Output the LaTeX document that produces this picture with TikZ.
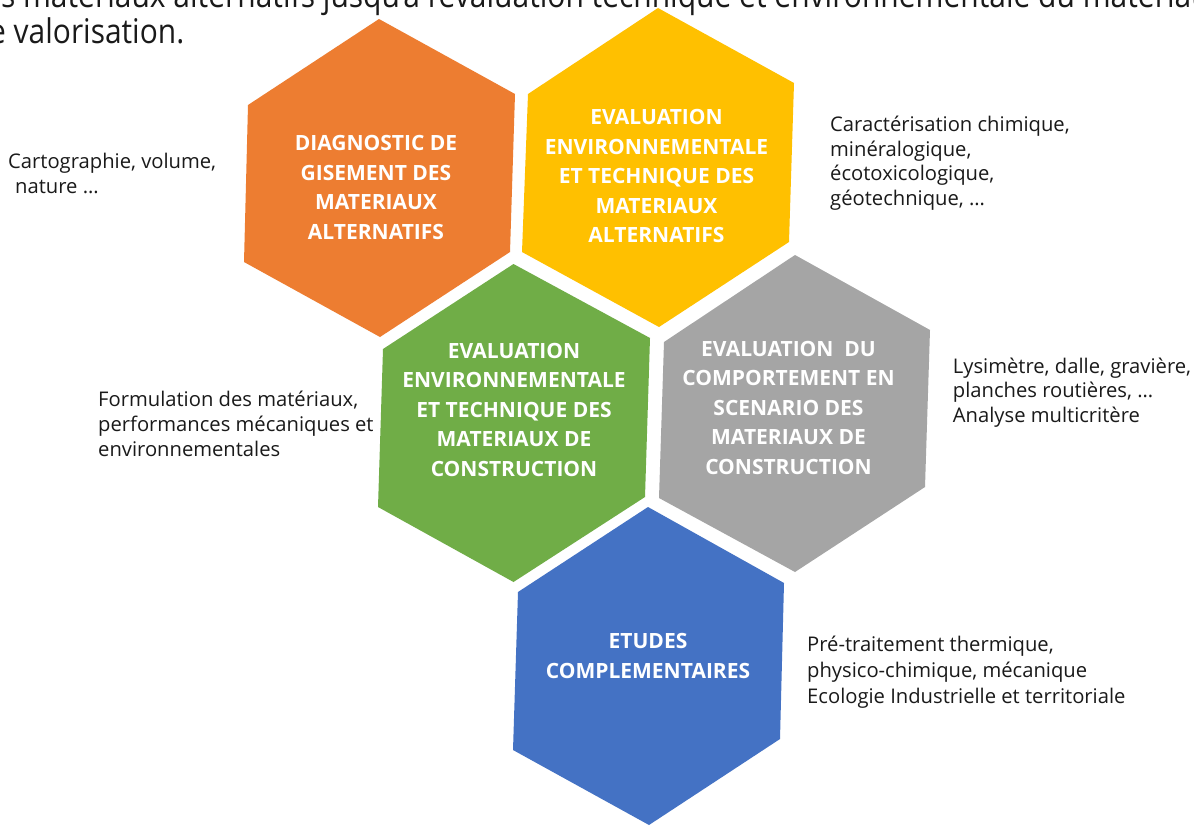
\documentclass[tikz,border=0pt]{standalone}
\usepackage{fontspec}
\setmainfont{Open Sans}
\definecolor{hexorange}{HTML}{ED7D31}
\definecolor{hexyellow}{HTML}{FFC000}
\definecolor{hexgreen}{HTML}{70AD47}
\definecolor{hexgray}{HTML}{A5A5A5}
\definecolor{hexblue}{HTML}{4472C4}
\definecolor{txtdark}{HTML}{1A1A1A}
\tikzset{
  hexlabel/.style={text=white, font=\fontsize{21}{29.5}\selectfont\bfseries, align=center, inner sep=0pt, anchor=center},
  note/.style={text=txtdark, font=\fontsize{20.2}{25}\selectfont, align=left, inner sep=0pt, anchor=base west},
  titletext/.style={text=txtdark, font=\fontsize{34}{34}\selectfont, inner sep=0pt, anchor=base west},
}
\begin{document}
\begin{tikzpicture}[x=1pt,y=-1pt]
\useasboundingbox (0,0) rectangle (1194,827);
\clip (0,0) rectangle (1194,827);
\fill[white] (0,0) rectangle (1194,827);
% title lines (cut by the frame)
\node[titletext] (title1) at (-16,8) {\scalebox{0.882}[1]{es matériaux alternatifs jusqu'à l'évaluation technique et environnementale du matériau}};
\node[titletext] (title2) at (-11,43.3) {\scalebox{0.88}[1]{e valorisation.}};
% hexagons
\fill[hexorange] (379,19) -- (515,94) -- (510,252) -- (380,337) -- (244,262) -- (248,105) -- cycle;
\fill[hexyellow] (658,8) -- (794,83) -- (789,242) -- (659,327) -- (522,252) -- (528,94) -- cycle;
\fill[hexgreen] (513.5,264) -- (650,338) -- (645,497) -- (513.5,582) -- (378,507) -- (383,349) -- cycle;
\fill[hexgray] (795,255) -- (930,330) -- (925,487) -- (795,572) -- (659,498) -- (664,342) -- cycle;
\fill[hexblue] (648,507) -- (784,583) -- (780,739) -- (649,825) -- (513,750) -- (518,592) -- cycle;
% hexagon labels
\node[hexlabel] (diag) at (376,187.5) {DIAGNOSTIC DE\\GISEMENT DES\\MATERIAUX\\ALTERNATIFS};
\node[hexlabel] (evalalt) at (656.5,176) {EVALUATION\\ENVIRONNEMENTALE\\ET TECHNIQUE DES\\MATERIAUX\\ALTERNATIFS};
\node[hexlabel] (evalcons) at (514,409.5) {EVALUATION\\ENVIRONNEMENTALE\\ET TECHNIQUE DES\\MATERIAUX DE\\CONSTRUCTION};
\node[hexlabel] (evalscen) at (788.5,407.5) {EVALUATION\ \ DU\\COMPORTEMENT EN\\SCENARIO DES\\MATERIAUX DE\\CONSTRUCTION};
\node[hexlabel] (etudes) at (648,656) {ETUDES\\COMPLEMENTAIRES};
% side notes (anchored at the baseline of the last line)
\node[note] (n1) at (8,193) {Cartographie, volume,\\\hspace*{7pt}nature …};
\node[note, font=\fontsize{20.2}{24.5}\selectfont] (n2) at (830,205) {Caractérisation chimique,\\minéralogique,\\écotoxicologique,\\géotechnique, …};
\node[note] (n3) at (98,456.7) {Formulation des matériaux,\\performances mécaniques et\\environnementales};
\node[note, font=\fontsize{20.2}{24.7}\selectfont] (n4) at (952.7,422.5) {Lysimètre, dalle, gravière,\\planches routières, …\\Analyse multicritère};
\node[note, font=\fontsize{20.2}{25.6}\selectfont] (n5) at (807,703) {Pré-traitement thermique,\\physico-chimique, mécanique\\Ecologie Industrielle et territoriale};
\end{tikzpicture}
\end{document}
